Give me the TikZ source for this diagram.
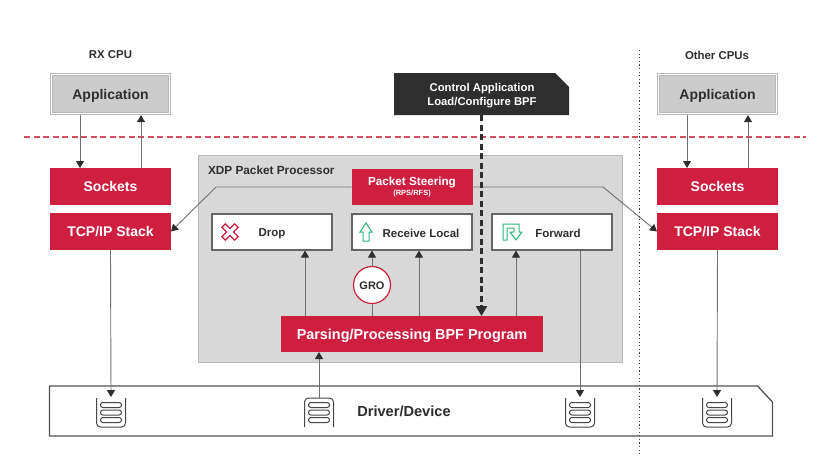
\documentclass[tikz,border=0pt]{standalone}
\usepackage{fontspec}
\setmainfont{Liberation Sans}
\usepackage{xcolor}
\usetikzlibrary{positioning, arrows.meta}
\definecolor{xdpred}{HTML}{CE1F3F}
\definecolor{xdpgray}{HTML}{D8D8D8}
\definecolor{xdpline}{HTML}{707070}
\definecolor{xdpdark}{HTML}{2E2E2E}
\definecolor{xdpgreen}{HTML}{2DB57F}
\newcommand{\fs}[1]{\fontsize{#1}{#1}\selectfont\bfseries}

\begin{document}
\begin{tikzpicture}[
  x=1pt, y=-1pt,
  every node/.style={inner sep=0pt, outer sep=0pt, text=xdpdark},
  redbox/.style={fill=xdpred, minimum width=121pt, minimum height=37pt, text=white, font=\fs{14},
    text height=12pt, text depth=2pt},
  appbox/.style={draw=black!28, double=white, double distance=1.5pt, line width=0.8pt, fill=black!20,
    minimum width=118pt, minimum height=39pt, outer sep=1.6pt, font=\fs{14}, text height=12pt, text depth=2pt},
  actbox/.style={draw=black!60, line width=1.2pt, fill=white, minimum width=120pt, minimum height=36pt, outer sep=0.6pt},
  act/.style={font=\fs{11.5}},
  cpulabel/.style={font=\fs{11.4}},
  arr/.style={draw=xdpline, line width=0.9pt, -{Triangle[length=7pt, width=8pt, color=xdpdark]}},
  plain/.style={draw=xdpline, line width=0.9pt},
  queueopen/.pic={
    \draw[black!72, line width=1pt, rounded corners=4pt] (-14.5,-14.5) -- (-14.5,14.5) -- (14.5,14.5) -- (14.5,-14.5);
    \foreach \dy in {-7.5,0,7.5}
      \draw[black!72, line width=1pt, rounded corners=2.4pt] (-10.5,\dy-2.5) rectangle (10.5,\dy+2.5);
  }
]
  \useasboundingbox (0,0) rectangle (821,456);

  % XDP container goes first
  \node[draw=black!28, line width=1pt, fill=xdpgray, minimum width=424pt, minimum height=207pt] (xdp) at (410,258.5) {};
  \node[font=\fs{11.8}, anchor=west] (xdplabel) at (208,170.5) {XDP Packet Processor};

  % CPU separators
  \coordinate (kernelL) at (24,137);
  \coordinate (kernelR) at (806,137);
  \draw[xdpred!80, line width=1.1pt, dash pattern=on 6pt off 3.5pt] (kernelL) -- (kernelR);

  % Left: RX CPU
  \node[cpulabel] (rxcpu) at (110.5,55) {RX CPU};
  \node[appbox] (appL) at (110.5,94) {Application};
  \node[redbox] (sockL) at (110.5,186.5) {Sockets};
  \node[redbox, below=8pt of sockL] (tcpL) {TCP/IP Stack};

  % Right: other CPUs
  \node[cpulabel] (othercpu) at (717,55) {Other CPUs};
  \node[appbox] (appR) at (717.5,94) {Application};
  \node[redbox] (sockR) at (717.5,186.5) {Sockets};
  \node[redbox, below=8pt of sockR] (tcpR) {TCP/IP Stack};

  % Control application
  \node[minimum width=175pt, minimum height=42pt] (ctrl) at (481.5,94) {};
  \fill[xdpdark] (ctrl.north west) -- ([xshift=-14pt]ctrl.north east) -- ([yshift=-14pt]ctrl.north east)
    -- (ctrl.south east) -- (ctrl.south west) -- cycle;
  \node[text=white, align=center, font=\fs{11.3}] (ctrllabel) at (482,95.5) {Control Application\\[3pt]Load/Configure BPF};

  % Driver bar
  \node[minimum width=723pt, minimum height=50pt] (driver) at (411,411) {};
  \draw[black!68, line width=1.3pt, fill=white] (driver.north west) -- ([xshift=-15pt]driver.north east)
    -- ([yshift=-16pt]driver.north east) -- (driver.south east) -- (driver.south west) -- cycle;
  \node[font=\fs{14.6}] (driverlabel) at (404,411) {Driver/Device};

  % Inside the processor
  \node[actbox] (drop) at (272,232) {};
  \node[actbox, right=18.8pt of drop] (recv) {};
  \node[actbox] (fwd) at (552,232) {};
  \node[act] (droplabel) at (272,233.5) {Drop};
  \node[act] (recvlabel) at (421,233.5) {Receive Local};
  \node[act] (fwdlabel) at (558,233.5) {Forward};
  \coordinate (bendL) at (216,187);
  \coordinate (bendR) at (603,187);
  \node[fill=xdpred, minimum width=121pt, minimum height=36pt] (steer) at (412,187) {};
  \node[text=white, font=\fs{11.7}] (steerlabel) at (412,182.5) {Packet Steering};
  \node[text=white, font=\fs{7.5}] (steersub) at (412,194) {(RPS/RFS)};
  \node[redbox, minimum width=262pt, minimum height=36pt, font=\fs{14.4}] (parse) at (412,334) {Parsing/Processing BPF Program};
  \node[circle, draw=xdpred, line width=1.2pt, fill=white, minimum size=37pt] (gro) at (372,285) {};
  \node[font=\fs{11}] (grolabel) at (372,286) {GRO};

  % Icons
  \draw[xdpred, line width=1.2pt, fill=white, rotate around={45:(230,232)}]
    (227.5,223) -- (232.5,223) -- (232.5,229.5) -- (239,229.5) -- (239,234.5) -- (232.5,234.5) -- (232.5,241) -- (227.5,241)
    -- (227.5,234.5) -- (221,234.5) -- (221,229.5) -- (227.5,229.5) -- cycle;
  \draw[xdpgreen, line width=1pt, fill=white]
    (366,223) -- (372,232) -- (369,232) -- (369,241) -- (363,241) -- (363,232) -- (360,232) -- cycle;
  \draw[xdpgreen, line width=1pt, fill=white, line join=round]
    (503,240) -- (503,224) -- (519,224) -- (519,232) -- (522,232) -- (516,240) -- (510,232) -- (514,232)
    -- (514,228) -- (507,228) -- (507,240) -- cycle;

  % Queues
  \pic at (111,412.5) {queueopen};
  \pic at (580,412.5) {queueopen};
  \pic at (717,412.5) {queueopen};
  \pic[yscale=-1] at (319,412.5) {queueopen};
  \coordinate (qL) at (111,397);
  \coordinate (qM) at (319,398);
  \coordinate (qF) at (580,397);
  \coordinate (qR) at (717,397);

  % Connectors
  \draw[arr] ([xshift=-30.5pt]appL.south) -- ([xshift=-30.5pt]sockL.north);
  \draw[arr] ([xshift=30.5pt]sockL.north) -- ([xshift=30.5pt]appL.south);
  \draw[arr] ([xshift=-30.5pt]appR.south) -- ([xshift=-30.5pt]sockR.north);
  \draw[arr] ([xshift=30.5pt]sockR.north) -- ([xshift=30.5pt]appR.south);
  \draw[arr] (tcpL.south) -- (qL);
  \draw[arr] (tcpR.south) -- (qR);
  \draw[arr] ([xshift=28pt]fwd.south) -- (qF);
  \draw[arr] (qM) -- (parse.south -| qM);
  \draw[arr] (steer.west) -- (bendL) -- (tcpL.east);
  \draw[arr] (steer.east) -- (bendR) -- (tcpR.west);
  \draw[arr] (parse.north -| 305,0) -- (drop.south -| 305,0);
  \draw[plain] (parse.north -| gro) -- (gro);
  \draw[arr] (gro) -- (recv.south -| gro);
  \draw[arr] (parse.north -| 419,0) -- (recv.south -| 419,0);
  \draw[arr] (parse.north -| 516,0) -- (fwd.south -| 516,0);
  \draw[xdpdark, line width=2.4pt, dash pattern=on 6pt off 3.5pt, -{Triangle[length=10pt, width=11pt]}]
    (ctrl.south) -- (parse.north -| ctrl);

  % Dotted divider
  \coordinate (divtop) at (639.5,50);
  \coordinate (divbot) at (639.5,456);
  \draw[black!75, line width=1.2pt, dash pattern=on 1.2pt off 2.4pt] (divtop) -- (divbot);
\end{tikzpicture}
\end{document}
